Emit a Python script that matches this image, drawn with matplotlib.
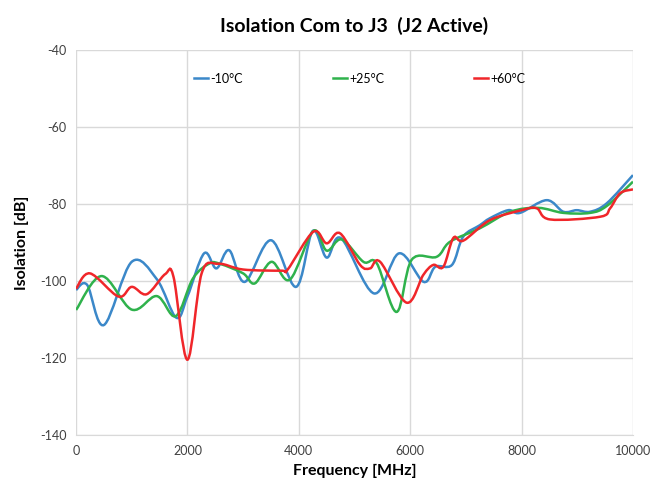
import numpy as np
import matplotlib.pyplot as plt
from matplotlib.path import Path
from matplotlib.patches import PathPatch

plt.rcParams['font.family'] = ['Lato', 'DejaVu Sans']
plt.rcParams['axes.unicode_minus'] = False

# Datos (MHz, dB)
freq_m10 = [0, 200, 500, 1000, 1450, 1800, 2000, 2300, 2520, 2750, 3030, 3500, 3950, 4250, 4500,
            4760, 5350, 5800, 6240, 6450, 6750, 6950, 7250, 7430, 7760, 7970, 8450, 8750, 8990,
            9230, 9530, 10000]
iso_m10 = [-102.3, -101, -111.4, -95, -99.5, -109.5, -104, -92.8, -96.7, -92, -100.2, -89.4, -101.5,
           -87, -93.9, -88.9, -103.2, -92.8, -100.2, -96.3, -95.8, -88.5, -85.5, -83.7, -81.6,
           -82.3, -79, -82, -81.6, -82, -79.8, -72.5]

freq_p25 = [0, 460, 1000, 1450, 1790, 2100, 2400, 2600, 3000, 3210, 3510, 3840, 4260, 4500, 4770,
            5160, 5400, 5755, 6025, 6475, 6715, 7250, 7800, 8300, 8750, 9230, 9530, 10000]
iso_p25 = [-107.5, -98.7, -107.4, -103.9, -109.1, -99.3, -95.4, -95.6, -98, -100.6, -95, -99.6,
           -87, -92.1, -89.2, -95, -95.4, -108, -94.5, -93.7, -89.8, -86.3, -82, -81, -82.3,
           -82.3, -80.5, -74.2]

freq_p60 = [0, 250, 760, 1000, 1270, 1600, 1750, 2000, 2255, 2550, 3000, 3690, 3800, 4260, 4500,
            4740, 5100, 5280, 5460, 5935, 6235, 6415, 6595, 6775, 6955, 7430, 8000, 8270, 8510,
            9410, 9590, 9770, 10000]
iso_p60 = [-102, -98, -104, -101.5, -103.4, -98.2, -98.9, -120.4, -98, -95.5, -97, -97.3, -97,
           -87.2, -90.2, -87.6, -95.8, -96.7, -95, -105.6, -98.4, -95.8, -96.3, -88.8, -89.5,
           -84.2, -81.6, -81.1, -84, -83.3, -81.1, -77.2, -76.2]

series = [("-10°C", freq_m10, iso_m10, "#3b88c9"),
          ("+25°C", freq_p25, iso_p25, "#2fb24c"),
          ("+60°C", freq_p60, iso_p60, "#f0262a")]


# Curva suavizada estilo Excel (Bezier cubica)
def curva_suave(x, y, t=0.17):
    p = np.column_stack([x, y]).astype(float)
    n = len(p)
    verts = [p[0]]
    codes = [Path.MOVETO]
    for i in range(n - 1):
        p0 = p[i - 1] if i > 0 else p[i]
        p3 = p[i + 2] if i + 2 < n else p[i + 1]
        c1 = p[i] + (p[i + 1] - p0) * t
        c2 = p[i + 1] - (p3 - p[i]) * t
        verts += [c1, c2, p[i + 1]]
        codes += [Path.CURVE4] * 3
    return Path(verts, codes)


fig = plt.figure(figsize=(6.67, 4.94), dpi=100)
ax = fig.add_axes([0.114, 0.119, 0.835, 0.78])

for nombre, f, v, color in series:
    ax.add_patch(PathPatch(curva_suave(f, v), facecolor="none", edgecolor=color, lw=1.8))
    ax.plot([], [], color=color, lw=1.8, label=nombre)

ax.set_xlim(0, 10000)
ax.set_ylim(-140, -40)
ax.set_xticks(range(0, 10001, 2000))
ax.set_yticks(range(-140, -39, 20))
ax.grid(True, color="#d9d9d9", lw=1)
ax.set_axisbelow(True)
for s in ["top", "right", "left"]:
    ax.spines[s].set_visible(False)
ax.spines["bottom"].set_color("#d9d9d9")
ax.tick_params(length=0, labelsize=9, labelcolor="#404040", pad=7)

ax.set_xlabel("Frequency [MHz]", fontsize=11.5, fontweight="bold", labelpad=5)
ax.set_ylabel("Isolation [dB]", fontsize=11.5, fontweight="bold", labelpad=8)
ax.set_title("Isolation Com to J3  (J2 Active)", fontsize=14, fontweight="bold", pad=13)

ax.legend(loc="upper center", bbox_to_anchor=(0.51, 0.97), ncol=3, frameon=False,
          fontsize=9, handlelength=1.1, handletextpad=0.2, columnspacing=7.2)

plt.savefig("out.png", dpi=100)
